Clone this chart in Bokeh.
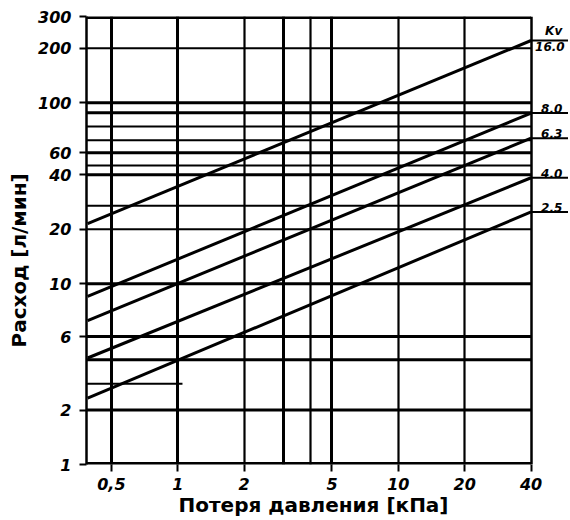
from bokeh.plotting import figure
from bokeh.models import FixedTicker, Range1d, Title
from bokeh.core.properties import value
from bokeh.embed import file_html
from bokeh.resources import INLINE

# ---------------- data ----------------
dp_ends = [0.39, 40]            # pressure loss, kPa (ends of each Kv line)
flow_kv16 = [21.5, 221]         # l/min
flow_kv8 = [8.5, 87.7]
flow_kv63 = [6.25, 63.7]
flow_kv4 = [3.88, 38.5]
flow_kv25 = [2.33, 24.9]
kv_labels = ["16.0", "8.0", "6.3", "4.0", "2.5"]
kv_title = "Kv"

x_ticks = [0.5, 1, 2, 5, 10, 20, 40]
x_tick_labels = ["0,5", "1", "2", "5", "10", "20", "40"]
y_ticks = [1, 2, 5.1, 10, 20, 40, 53, 100, 200, 300]
y_tick_labels = ["1", "2", "6", "10", "20", "40", "60", "100", "200", "300"]

grid_dp_heavy = [0.5, 1, 3, 5]
grid_dp_medium = [2, 4, 10, 20]
grid_q_heavy = [2, 3.8, 5.1, 10, 40, 53, 88, 100]
grid_q_medium = [20, 27, 45, 62, 74, 200]
grid_q_partial = [2.8]
partial_dp_end = 1.05

X0, X1 = 0.3855, 59.1
Y0, Y1 = 1, 300
XB = 40

FONT = "DejaVu Sans"
INK = "#000000"

p = figure(width=568, height=520, x_axis_type="log", y_axis_type="log",
           x_range=Range1d(X0, X1), y_range=Range1d(Y0, Y1),
           output_backend="svg", toolbar_location=None, title=None,
           min_border_left=85, min_border_right=0, min_border_top=16,
           min_border_bottom=56)
p.outline_line_color = None
p.background_fill_color = "white"
p.border_fill_color = "white"
p.xgrid.visible = False
p.ygrid.visible = False

# ---------------- axes ----------------
xa = p.xaxis[0]
xa.ticker = FixedTicker(ticks=x_ticks)
xa.major_label_overrides = dict(zip(x_ticks, x_tick_labels))
xa.axis_line_color = None
xa.major_tick_out = 7
xa.major_tick_in = 0
xa.major_tick_line_width = 2
xa.major_tick_line_color = INK
xa.minor_tick_line_color = None
xa.major_label_text_font = FONT
xa.major_label_text_font_size = "16px"
xa.major_label_text_font_style = "bold italic"
xa.major_label_text_color = INK
xa.major_label_standoff = 6

ya = p.yaxis[0]
ya.ticker = FixedTicker(ticks=y_ticks)
ya.major_label_overrides = dict(zip(y_ticks, y_tick_labels))
ya.axis_line_color = INK
ya.axis_line_width = 2.5
ya.major_tick_out = 7
ya.major_tick_in = 0
ya.major_tick_line_width = 2
ya.major_tick_line_color = INK
ya.minor_tick_line_color = None
ya.major_label_text_font = FONT
ya.major_label_text_font_size = "16px"
ya.major_label_text_font_style = "bold italic"
ya.major_label_text_color = INK
ya.major_label_standoff = 8

p.add_layout(Title(text="Потеря давления [кПа]", align="left", offset=92,
                   vertical_align="top", standoff=0, text_font=FONT,
                   text_font_size="20px", text_font_style="bold",
                   text_color=INK), "below")
p.add_layout(Title(text="Расход [л/мин]", align="left", offset=117,
                   vertical_align="bottom", standoff=9, text_font=FONT,
                   text_font_size="20px", text_font_style="bold",
                   text_color=INK), "left")

# ---------------- grid ----------------
p.segment(x0=[X0] * len(grid_q_heavy), x1=[XB] * len(grid_q_heavy),
          y0=grid_q_heavy, y1=grid_q_heavy, line_color=INK, line_width=3)
p.segment(x0=[X0] * len(grid_q_medium), x1=[XB] * len(grid_q_medium),
          y0=grid_q_medium, y1=grid_q_medium, line_color=INK, line_width=2)
p.segment(x0=[X0] * len(grid_q_partial), x1=[partial_dp_end] * len(grid_q_partial),
          y0=grid_q_partial, y1=grid_q_partial, line_color=INK, line_width=2)
p.vspan(x=grid_dp_heavy, line_color=INK, line_width=3)
p.vspan(x=grid_dp_medium, line_color=INK, line_width=2.2)
# frame borders
p.vspan(x=[XB], line_color=INK, line_width=2.5)
p.segment(x0=[X0, X0], x1=[XB, XB], y0=[Y0, Y1], y1=[Y0, Y1],
          line_color=INK, line_width=5)

# ---------------- Kv lines ----------------
flows = [flow_kv16, flow_kv8, flow_kv63, flow_kv4, flow_kv25]
p.multi_line(xs=[dp_ends] * len(flows), ys=flows, line_color=INK,
             line_width=3)
ends = [f[-1] for f in flows]
p.segment(x0=[XB] * len(ends), x1=[X1] * len(ends), y0=ends, y1=ends,
          line_color=INK, line_width=2)

common = dict(text_font=value(FONT), text_font_size="12px",
              text_font_style="bold italic", text_color=INK)
p.text(x=[XB], y=[ends[0]], text=[kv_labels[0]], x_offset=4, y_offset=1,
       text_baseline="top", text_align="left", **common)
p.text(x=[XB] * 4, y=ends[1:], text=kv_labels[1:], x_offset=10, y_offset=0,
       text_baseline="bottom", text_align="left", **common)
p.text(x=[XB], y=[ends[0]], text=[kv_title], x_offset=14, y_offset=-3,
       text_baseline="bottom", text_align="left", **common)

open("out.html", "w").write(file_html(p, INLINE))
